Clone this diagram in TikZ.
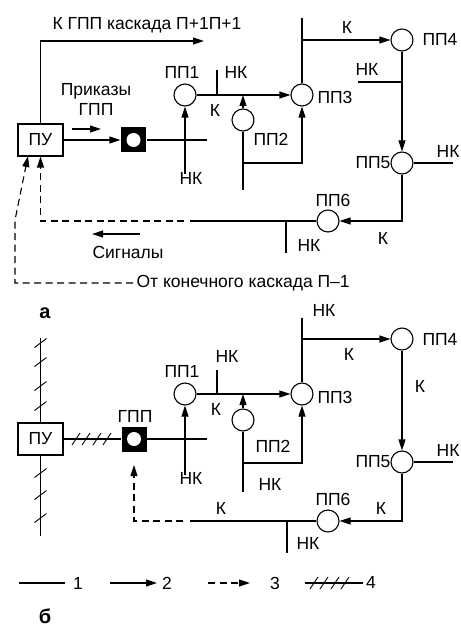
\documentclass[tikz,border=0pt]{standalone}
\usepackage{fontspec}
\setmainfont{Liberation Sans}
\usetikzlibrary{arrows.meta}
\begin{document}
\begin{tikzpicture}[x=1pt,y=-1pt,
  line width=1.1pt,
  every node/.style={font=\fontsize{17.5}{20}\selectfont, inner sep=0pt},
  pp/.style={draw, circle, minimum size=22pt, inner sep=0pt},
  pubox/.style={draw, rectangle, minimum width=45pt, minimum height=32pt},
  gppbox/.style={fill=black, rectangle, minimum size=25pt, inner sep=0pt},
  arr/.style={-{Triangle[length=11pt,width=7pt]}},
  dasharr/.style={dash pattern=on 7pt off 4.5pt, -{Triangle[length=11pt,width=7pt]}},
  panel/.style={font=\fontsize{20}{22}\selectfont\bfseries, anchor=base}
]
\useasboundingbox (0,0) rectangle (460,628);

% ================= panel a =================
\node[pubox] (pua) at (40.5,140) {ПУ};
\node[gppbox] (gppa) at (133.5,140) {};
\fill[white] (gppa.center) circle (7pt);
\node[pp] (a1) at (185,95) {};
\node[pp] (a2) at (243,120) {};
\node[pp] (a3) at (302,95) {};
\node[pp] (a4) at (402,40) {};
\node[pp] (a5) at (402,163) {};
\node[pp] (a6) at (328,221) {};

\coordinate (ta) at (204,41);
\coordinate (pra) at (72,129);
\coordinate (prb) at (101,129);
\coordinate (ae) at (207,140);
\coordinate (a1n) at (185,174);
\coordinate (atk1) at (217,70);
\coordinate (a2d) at (243,190);
\coordinate (a2j) at (243,163);
\coordinate (a3t) at (302,18);
\coordinate (a3j) at (302,40);
\coordinate (a4nk) at (358,82);
\coordinate (a5e) at (453,163);
\coordinate (a6s) at (190,221);
\coordinate (a6d) at (184,221);
\coordinate (atk6) at (286,221);
\coordinate (atk6b) at (286,253);
\coordinate (sga) at (140,234);
\coordinate (sgb) at (92,234);
\coordinate (ota) at (133,283);
\coordinate (otb) at (15,283);
\coordinate (otc) at (15,220);
\coordinate (otd) at (28,156);

\draw[arr] (pua.north) |- (ta);
\draw[arr] (pra) -- (prb);
\draw[arr] (pua.east) -- (gppa.west);
\draw (gppa.east) -- (ae);
\draw[arr] (a1n) -- (a1.south);
\draw[arr] (a1) -- (a3);
\draw (atk1) -- (atk1 |- a1);
\draw[arr] (a2.north) -- (a2 |- a1);
\draw (a2.south) -- (a2d);
\draw[arr] (a2j) -| (a3.south);
\draw (a3.north) -- (a3t);
\draw[arr] (a3j) -- (a4);
\draw[arr] (a4) -- (a5);
\draw (a4nk) -- (a4nk -| a4);
\draw (a5.east) -- (a5e);
\draw[arr] (a5.south) |- (a6.east);
\draw (a6.west) -- (a6s);
\draw (atk6) -- (atk6b);
\draw[dasharr] (a6d) -| (pua.south);
\draw[arr] (sga) -- (sgb);
\draw[dasharr] (ota) -- (otb) -- (otc) -- (otd);

\node[anchor=west] (ttop) at (52,25) {К ГПП каскада П+1П+1};
\node[align=center] (tpr) at (96,99) {Приказы\\ГПП};
\node (la1) at (182,72) {ПП1};
\node (lnk1) at (236,72) {НК};
\node (lk1) at (215,110) {К};
\node (lnk2) at (191,178) {НК};
\node (la2) at (271,139) {ПП2};
\node[anchor=west] (la3) at (317,97) {ПП3};
\node (lk2) at (347,27) {К};
\node (la4) at (440,39) {ПП4};
\node (lnk3) at (367,69) {НК};
\node (la5) at (373,163) {ПП5};
\node[anchor=east] (lnk4) at (460,151) {НК};
\node (la6) at (333,200) {ПП6};
\node (lk3) at (383,238) {К};
\node (lnk5) at (309,245) {НК};
\node (tsg) at (128,252) {Сигналы};
\node[anchor=west] (tot) at (136,283) {От конечного каскада П–1};
\node[panel] (pa) at (45,318) {а};

% ================= panel b =================
\node[pubox] (pub) at (40.5,439) {ПУ};
\node[gppbox] (gppb) at (134,439) {};
\fill[white] (gppb.center) circle (7pt);
\node[pp] (b1) at (185,394) {};
\node[pp] (b2) at (243,420) {};
\node[pp] (b3) at (302,394) {};
\node[pp] (b4) at (402,339) {};
\node[pp] (b5) at (402,462) {};
\node[pp] (b6) at (328,521) {};

\coordinate (bvt) at (40.5,338);
\coordinate (bvb) at (40.5,536);
\coordinate (be) at (207,439);
\coordinate (b1n) at (185,475);
\coordinate (btk1) at (217,370);
\coordinate (b2d) at (243,492);
\coordinate (b2j) at (243,463);
\coordinate (b3t) at (302,318);
\coordinate (b3j) at (302,339);
\coordinate (b5e) at (453,462);
\coordinate (b6s) at (190,521);
\coordinate (b6d) at (183,521);
\coordinate (btk6) at (287,521);
\coordinate (btk6b) at (287,553);
\coordinate (gin) at (134,465);

\draw (bvt) -- (pub.north);
\draw (pub.south) -- (bvb);
\foreach \yy in {343,362,386,406,473,495,518}
  \draw[line width=0.9pt] (34.5,\yy+4.5) -- (46.5,\yy-4.5);
\draw (pub.east) -- (gppb.west);
\foreach \xx in {76,86,97,107}
  \draw[line width=0.9pt] (\xx-4,445) -- (\xx+4,433);
\draw (gppb.east) -- (be);
\draw[arr] (b1n) -- (b1.south);
\draw[arr] (b1) -- (b3);
\draw (btk1) -- (btk1 |- b1);
\draw[arr] (b2.north) -- (b2 |- b1);
\draw (b2.south) -- (b2d);
\draw[arr] (b2j) -| (b3.south);
\draw (b3.north) -- (b3t);
\draw[arr] (b3j) -- (b4);
\draw[arr] (b4) -- (b5);
\draw (b5.east) -- (b5e);
\draw[arr] (b5.south) |- (b6.east);
\draw (b6.west) -- (b6s);
\draw (btk6) -- (btk6b);
\draw[dasharr] (b6d) -| (gin);

\node (lgpp) at (135,416) {ГПП};
\node (lb1) at (182,371) {ПП1};
\node (lbnk1) at (227,356) {НК};
\node (lbk1) at (216,409) {К};
\node (lb2) at (273,446) {ПП2};
\node[anchor=west] (lb3) at (317,397) {ПП3};
\node (lbnk2) at (324,310) {НК};
\node (lbk2) at (349,354) {К};
\node (lb4) at (440,339) {ПП4};
\node (lbk3) at (420,386) {К};
\node (lb5) at (373,462) {ПП5};
\node[anchor=east] (lbnk3) at (460,450) {НК};
\node (lbnk4) at (191,478) {НК};
\node (lbnk5) at (270,484) {НК};
\node (lb6) at (333,499) {ПП6};
\node (lbk4) at (221,508) {К};
\node (lbk5) at (381,508) {К};
\node (lbnk6) at (308,543) {НК};

% ================= legend =================
\coordinate (l1a) at (19,583);
\coordinate (l1b) at (65,583);
\coordinate (l2a) at (110,583);
\coordinate (l2b) at (157,583);
\coordinate (l3a) at (208,583);
\coordinate (l3b) at (250,583);
\coordinate (l4a) at (305,583);
\coordinate (l4b) at (363,583);
\draw (l1a) -- (l1b);
\draw[arr] (l2a) -- (l2b);
\draw[dasharr] (l3a) -- (l3b);
\draw (l4a) -- (l4b);
\foreach \xx in {314,324,335,345}
  \draw[line width=0.9pt] (\xx-4,589) -- (\xx+4,577);
\node (lg1) at (78,583) {1};
\node (lg2) at (167,583) {2};
\node (lg3) at (275,583) {3};
\node (lg4) at (371,582) {4};
\node[panel] (pb) at (45,623) {б};
\end{tikzpicture}
\end{document}
